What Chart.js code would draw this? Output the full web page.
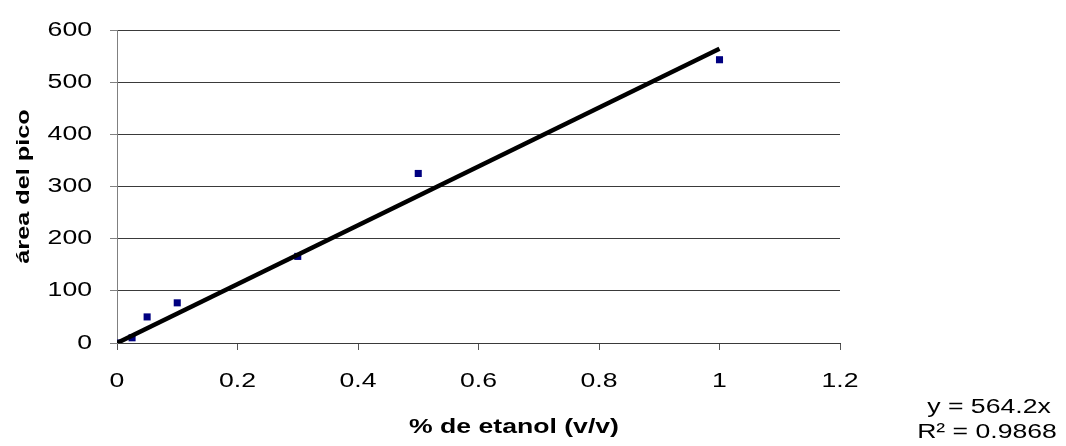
<!DOCTYPE html>
<html>
<head>
<meta charset="utf-8">
<title>Área del pico vs % de etanol</title>
<script src="https://cdn.jsdelivr.net/npm/chart.js@4/dist/chart.umd.min.js"></script>
<style>
  html, body { margin: 0; padding: 0; background: #fff; }
  canvas { display: block; }
</style>
</head>
<body>
<canvas id="grafica" width="1066" height="446"></canvas>
<script>
// datos de calibración
const etanol = [0, 0.025, 0.05, 0.1, 0.3, 0.5, 1];
const areaPico = [0, 10, 50, 77, 166, 325, 543];

// línea de tendencia y = 564.2x (R² = 0.9868)
const pendiente = 564.2;
const r2 = 0.9868;
const tendenciaX = [0, 1];

// marcas de los ejes
const ticksX = [0, 0.2, 0.4, 0.6, 0.8, 1, 1.2];
const ticksY = [0, 100, 200, 300, 400, 500, 600];

const FUENTE = "'Liberation Sans', Arial, sans-serif";
const ESTIRAR = 1.33; // letra ancha, como en la hoja original

const canvas = document.getElementById('grafica');
const ctx = canvas.getContext('2d');

// todo el texto se dibuja ensanchado a lo largo de la línea base
const fillOriginal = ctx.fillText.bind(ctx);
ctx.fillText = function (texto, x, y) {
    this.save();
    this.translate(x, y);
    this.scale(ESTIRAR, 1);
    fillOriginal(texto, 0, 0);
    this.restore();
};

// títulos de ejes y ecuación de la recta
const textos = {
    id: 'textos',
    afterDraw(chart) {
        const c = chart.ctx;
        const area = chart.chartArea;
        c.save();
        c.fillStyle = '#000';

        c.font = 'bold 20px ' + FUENTE;
        c.textAlign = 'center';
        c.textBaseline = 'middle';
        c.fillText('% de etanol (v/v)', 514, 427);

        c.save();
        c.translate(24, (area.top + area.bottom) / 2);
        c.rotate(-Math.PI / 2);
        c.font = 'bold 19px ' + FUENTE;
        c.fillText('área del pico', 0, 0);
        c.restore();

        c.font = '20px ' + FUENTE;
        c.textBaseline = 'alphabetic';
        c.fillText('y = ' + pendiente + 'x', 989, 413);
        c.fillText('R² = ' + r2, 987, 438);
        c.restore();
    }
};

const etiqueta = v => String(+v.toFixed(2));

new Chart(canvas, {
    type: 'scatter',
    data: {
        datasets: [
            {
                label: 'Tendencia',
                type: 'line',
                data: tendenciaX.map(x => ({ x: x, y: pendiente * x })),
                borderColor: '#000',
                borderWidth: 4.5,
                pointRadius: 0,
                fill: false,
                order: 0
            },
            {
                label: 'Área del pico',
                data: etanol.map((x, i) => ({ x: x, y: areaPico[i] })),
                backgroundColor: '#000080',
                borderColor: '#000080',
                borderWidth: 0,
                pointStyle: 'rect',
                pointRadius: 5,
                order: 1
            }
        ]
    },
    options: {
        responsive: false,
        animation: false,
        layout: { padding: { left: 0, right: 226, top: 29, bottom: 0 } },
        plugins: {
            legend: { display: false },
            tooltip: { enabled: false }
        },
        scales: {
            x: {
                type: 'linear',
                min: 0,
                max: 1.2,
                afterBuildTicks: s => { s.ticks = ticksX.map(v => ({ value: v })); },
                afterFit: s => { s.height = 103; },
                grid: {
                    drawOnChartArea: false,
                    tickLength: 7,
                    tickColor: '#555'
                },
                border: { color: '#3a3a3a', width: 1 },
                ticks: {
                    color: '#000',
                    padding: 19,
                    maxRotation: 0,
                    callback: etiqueta,
                    font: { family: FUENTE, size: 20 }
                }
            },
            y: {
                min: 0,
                max: 600,
                afterBuildTicks: s => { s.ticks = ticksY.map(v => ({ value: v })); },
                afterFit: s => { s.width = 117; },
                grid: {
                    color: '#3a3a3a',
                    lineWidth: 1,
                    tickLength: 7,
                    tickColor: '#808080'
                },
                border: { color: '#808080', width: 1 },
                ticks: {
                    color: '#000',
                    padding: 18,
                    callback: etiqueta,
                    font: { family: FUENTE, size: 20 }
                }
            }
        }
    },
    plugins: [textos]
});
</script>
</body>
</html>
